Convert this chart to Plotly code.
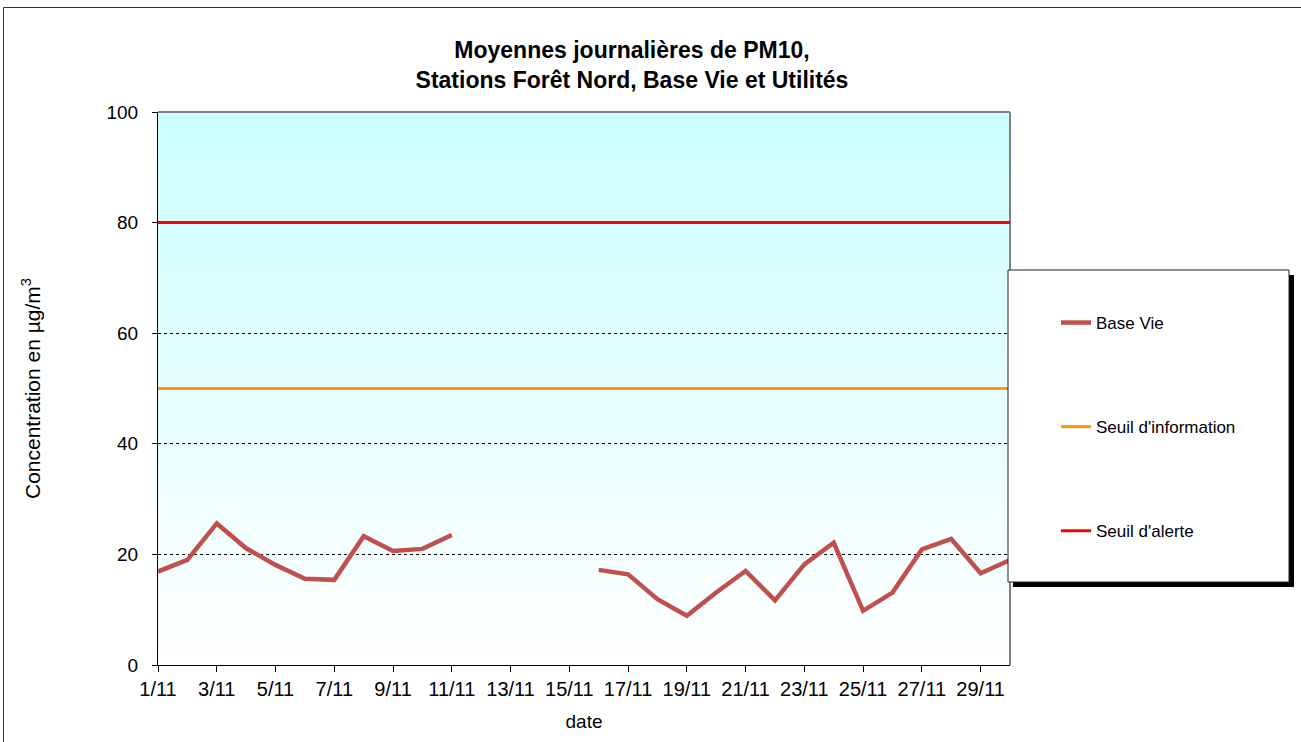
import plotly.graph_objects as go

# ---------------- data ----------------
dates = [f"{d}/11" for d in range(1, 31)]
base_vie = [16.9, 19.0, 25.6, 21.1, 18.1, 15.6, 15.4, 23.3, 20.6, 21.0,
            23.5, None, None, None, None, 17.2, 16.4, 11.9, 8.9, 13.1,
            17.0, 11.7, 18.2, 22.1, 9.8, 13.1, 20.9, 22.8, 16.6, 19.0]
seuil_information_value = 50
seuil_alerte_value = 80
seuil_information = [seuil_information_value for _ in dates]
seuil_alerte = [seuil_alerte_value for _ in dates]
tick_labels = dates[::2]
y_ticks = [0, 20, 40, 60, 80, 100]

# ---------------- geometry helpers ----------------
W, H = 1301, 742
L, R, T, B = 158, 1010, 112, 665
PW, PH = R - L, B - T


def px(x):
    return (x - L) / PW


def py(y):
    return (B - y) / PH


FONT = "Arial, Liberation Sans, sans-serif"

fig = go.Figure()
fig.add_trace(go.Scatter(x=dates, y=base_vie, mode="lines", name="Base Vie",
                         line=dict(color="#C0504D", width=4.5),
                         connectgaps=False, legendgroup="a"))
fig.add_trace(go.Scatter(x=dates, y=seuil_information, mode="lines",
                         name="Seuil d'information",
                         line=dict(color="#FF9900", width=3), legendgroup="b"))
fig.add_trace(go.Scatter(x=dates, y=seuil_alerte, mode="lines",
                         name="Seuil d'alerte",
                         line=dict(color="#FF0000", width=3), legendgroup="c"))

shapes = []
# gradient background (light cyan at top -> white at bottom)
n = 80
for i in range(n):
    f0 = i / n
    f1 = (i + 1) / n
    t = (f0 + f1) / 2  # 0 bottom, 1 top
    r = round(255 - (255 - 204) * t)
    shapes.append(dict(type="rect", xref="paper", yref="paper",
                       x0=0, x1=1, y0=f0, y1=f1 + 0.002,
                       fillcolor=f"rgb({r},255,255)", line=dict(width=0),
                       layer="below"))
# plot border (gray top/right)
shapes.append(dict(type="line", xref="paper", yref="paper", x0=0, x1=1, y0=1, y1=1,
                   line=dict(color="#808080", width=2), layer="below"))
shapes.append(dict(type="line", xref="paper", yref="paper", x0=1, x1=1, y0=0, y1=1,
                   line=dict(color="#808080", width=2), layer="below"))
# outer chart border
shapes.append(dict(type="rect", xref="paper", yref="paper",
                   x0=px(3.5), x1=px(1310), y0=py(7.5), y1=py(750),
                   line=dict(color="#333333", width=1), fillcolor="rgba(0,0,0,0)"))
# legend box shadow and box
shapes.append(dict(type="rect", xref="paper", yref="paper",
                   x0=px(1013), x1=px(1294), y0=py(587), y1=py(275),
                   line=dict(width=0), fillcolor="black", layer="above"))
shapes.append(dict(type="rect", xref="paper", yref="paper",
                   x0=px(1008), x1=px(1289), y0=py(582), y1=py(270),
                   line=dict(color="#222222", width=1), fillcolor="white", layer="above"))

fig.update_layout(
    width=W, height=H,
    margin=dict(l=L, r=W - R, t=T, b=H - B, pad=0),
    paper_bgcolor="white",
    plot_bgcolor="white",
    font=dict(family=FONT, color="black", size=19),
    title=dict(text="<b>Moyennes journalières de PM10,<br>Stations Forêt Nord, Base Vie et Utilités</b>",
               x=632 / W, xanchor="center", y=1 - 58 / H, yanchor="top",
               font=dict(family=FONT, size=23, color="black")),
    shapes=shapes,
    showlegend=True,
    legend=dict(x=px(1056), xanchor="left", y=py(305), yanchor="top",
                bgcolor="rgba(0,0,0,0)", borderwidth=0,
                font=dict(family=FONT, size=17, color="black"),
                tracegroupgap=79, traceorder="grouped"),
    xaxis=dict(type="category", range=[0, 29], tickmode="array",
               tickvals=tick_labels, ticktext=tick_labels,
               ticks="outside", ticklen=6, tickcolor="black",
               showline=True, linecolor="black", linewidth=1,
               showgrid=False, zeroline=False,
               tickfont=dict(family=FONT, size=20),
               title=dict(text="date", font=dict(family=FONT, size=19), standoff=15)),
    yaxis=dict(range=[0, 100], tickvals=y_ticks, ticks="outside", ticklen=5,
               tickcolor="black", showline=True, linecolor="black", linewidth=1,
               showgrid=True, gridcolor="black", griddash="dot", gridwidth=1,
               zeroline=False, tickfont=dict(family=FONT, size=19),
               ticklabelstandoff=10,
               title=dict(text="Concentration en µg/m<sup>3</sup>",
                          font=dict(family=FONT, size=21), standoff=60)),
)

fig.write_html("out.html", config={"displayModeBar": False},
               post_script="document.body.style.margin='0px';document.body.style.overflow='hidden';")
